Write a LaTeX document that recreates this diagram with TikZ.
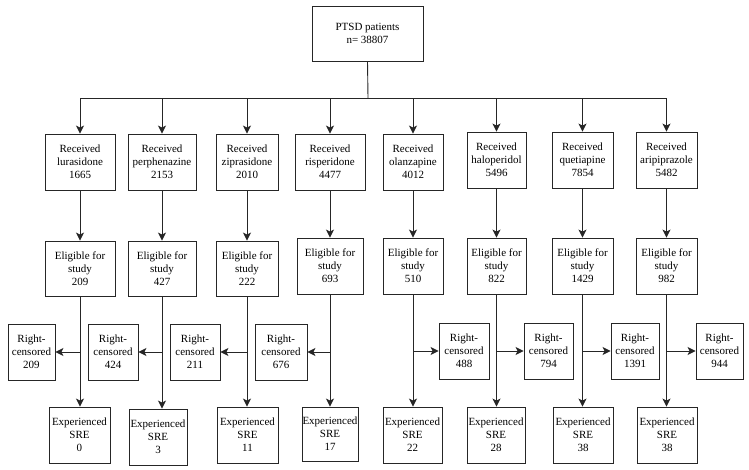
\documentclass[tikz,border=0pt]{standalone}
\usepackage{fontspec}
\setmainfont{Liberation Serif}
\usepackage{tikz}
\usetikzlibrary{arrows.meta}

\begin{document}
\begin{tikzpicture}[x=1pt, y=-1pt,
        box/.style={draw=black!85, line width=0.9pt, align=center, inner sep=0pt, minimum height=56pt, font=\fontsize{11}{13}\selectfont},
        flow/.style={draw=black!85, line width=0.9pt, -{Stealth[length=8pt, width=8pt, inset=2pt]}}]

        \useasboundingbox (0,0) rectangle (749,470);

        \node[box, minimum width=111pt, minimum height=55pt] (ptsd) at (367.5,33.5) {PTSD patients\\n= 38807};
        \coordinate (bus) at (368,98);

        % received
        \node[box, minimum width=70pt] (rec1) at (80,162) {Received\\lurasidone\\1665};
        \node[box, minimum width=68pt] (rec2) at (162,162) {Received\\perphenazine\\2153};
        \node[box, minimum width=62pt] (rec3) at (247,162) {Received\\ziprasidone\\2010};
        \node[box, minimum width=70pt] (rec4) at (330,162) {Received\\risperidone\\4477};
        \node[box, minimum width=60pt] (rec5) at (413,162) {Received\\olanzapine\\4012};
        \node[box, minimum width=59pt] (rec6) at (496.5,160) {Received\\haloperidol\\5496};
        \node[box, minimum width=61pt] (rec7) at (582.5,160) {Received\\quetiapine\\7854};
        \node[box, minimum width=61pt] (rec8) at (666.5,160) {Received\\aripiprazole\\5482};

        % eligible
        \node[box, minimum width=70pt, minimum height=55pt] (elig1) at (80,268.5) {Eligible for\\study\\209};
        \node[box, minimum width=68pt, minimum height=55pt] (elig2) at (162,268.5) {Eligible for\\study\\427};
        \node[box, minimum width=62pt, minimum height=55pt] (elig3) at (247,268.5) {Eligible for\\study\\222};
        \node[box, minimum width=66pt] (elig4) at (330,266) {Eligible for\\study\\693};
        \node[box, minimum width=60pt] (elig5) at (413,266) {Eligible for\\study\\510};
        \node[box, minimum width=59pt] (elig6) at (496.5,266) {Eligible for\\study\\822};
        \node[box, minimum width=61pt] (elig7) at (582.5,266) {Eligible for\\study\\1429};
        \node[box, minimum width=61pt] (elig8) at (666.5,266) {Eligible for\\study\\982};

        % right-censored
        \node[box, minimum width=47pt] (rc1) at (31.5,352) {Right-\\censored\\209};
        \node[box, minimum width=50pt] (rc2) at (113,352) {Right-\\censored\\424};
        \node[box, minimum width=50pt] (rc3) at (195,352) {Right-\\censored\\211};
        \node[box, minimum width=52pt] (rc4) at (281,352) {Right-\\censored\\676};
        \node[box, minimum width=50pt] (rc5) at (464,351) {Right-\\censored\\488};
        \node[box, minimum width=49pt] (rc6) at (548.5,351) {Right-\\censored\\794};
        \node[box, minimum width=48pt] (rc7) at (635,351) {Right-\\censored\\1391};
        \node[box, minimum width=47pt] (rc8) at (719.5,351) {Right-\\censored\\944};

        % experienced SRE
        \node[box, minimum width=61pt] (sre1) at (79.5,435) {Experienced\\SRE\\0};
        \node[box, minimum width=58pt] (sre2) at (158,437) {Experienced\\SRE\\3};
        \node[box, minimum width=61pt] (sre3) at (247.5,435) {Experienced\\SRE\\11};
        \node[box, minimum width=56pt, minimum height=54pt] (sre4) at (330,434) {Experienced\\SRE\\17};
        \node[box, minimum width=59pt] (sre5) at (412.5,435) {Experienced\\SRE\\22};
        \node[box, minimum width=58pt] (sre6) at (496,435) {Experienced\\SRE\\28};
        \node[box, minimum width=60pt] (sre7) at (583,435) {Experienced\\SRE\\38};
        \node[box, minimum width=60pt] (sre8) at (667,435) {Experienced\\SRE\\38};

        % connectors
        \draw[draw=black!85, line width=0.9pt] (ptsd.south) -- (bus);

        \draw[flow] (bus) -| (rec1.north);
        \draw[flow] (bus) -| (rec2.north);
        \draw[flow] (bus) -| (rec3.north);
        \draw[flow] (bus) -| (rec4.north);
        \draw[flow] (bus) -| (rec5.north);
        \draw[flow] (bus) -| (rec6.north);
        \draw[flow] (bus) -| (rec7.north);
        \draw[flow] (bus) -| (rec8.north);

        \draw[flow] (rec1) -- (elig1);
        \draw[flow] (rec2) -- (elig2);
        \draw[flow] (rec3) -- (elig3);
        \draw[flow] (rec4) -- (elig4);
        \draw[flow] (rec5) -- (elig5);
        \draw[flow] (rec6) -- (elig6);
        \draw[flow] (rec7) -- (elig7);
        \draw[flow] (rec8) -- (elig8);

        \draw[flow] (elig1.south) -- (elig1.south |- sre1.north);
        \draw[flow] (elig2.south) -- (elig2.south |- sre2.north);
        \draw[flow] (elig3.south) -- (elig3.south |- sre3.north);
        \draw[flow] (elig4.south) -- (elig4.south |- sre4.north);
        \draw[flow] (elig5.south) -- (elig5.south |- sre5.north);
        \draw[flow] (elig6.south) -- (elig6.south |- sre6.north);
        \draw[flow] (elig7.south) -- (elig7.south |- sre7.north);
        \draw[flow] (elig8.south) -- (elig8.south |- sre8.north);

        \draw[flow] (elig1.south |- rc1.east) -- (rc1.east);
        \draw[flow] (elig2.south |- rc2.east) -- (rc2.east);
        \draw[flow] (elig3.south |- rc3.east) -- (rc3.east);
        \draw[flow] (elig4.south |- rc4.east) -- (rc4.east);
        \draw[flow] (elig5.south |- rc5.west) -- (rc5.west);
        \draw[flow] (elig6.south |- rc6.west) -- (rc6.west);
        \draw[flow] (elig7.south |- rc7.west) -- (rc7.west);
        \draw[flow] (elig8.south |- rc8.west) -- (rc8.west);

    \end{tikzpicture}
\end{document}
